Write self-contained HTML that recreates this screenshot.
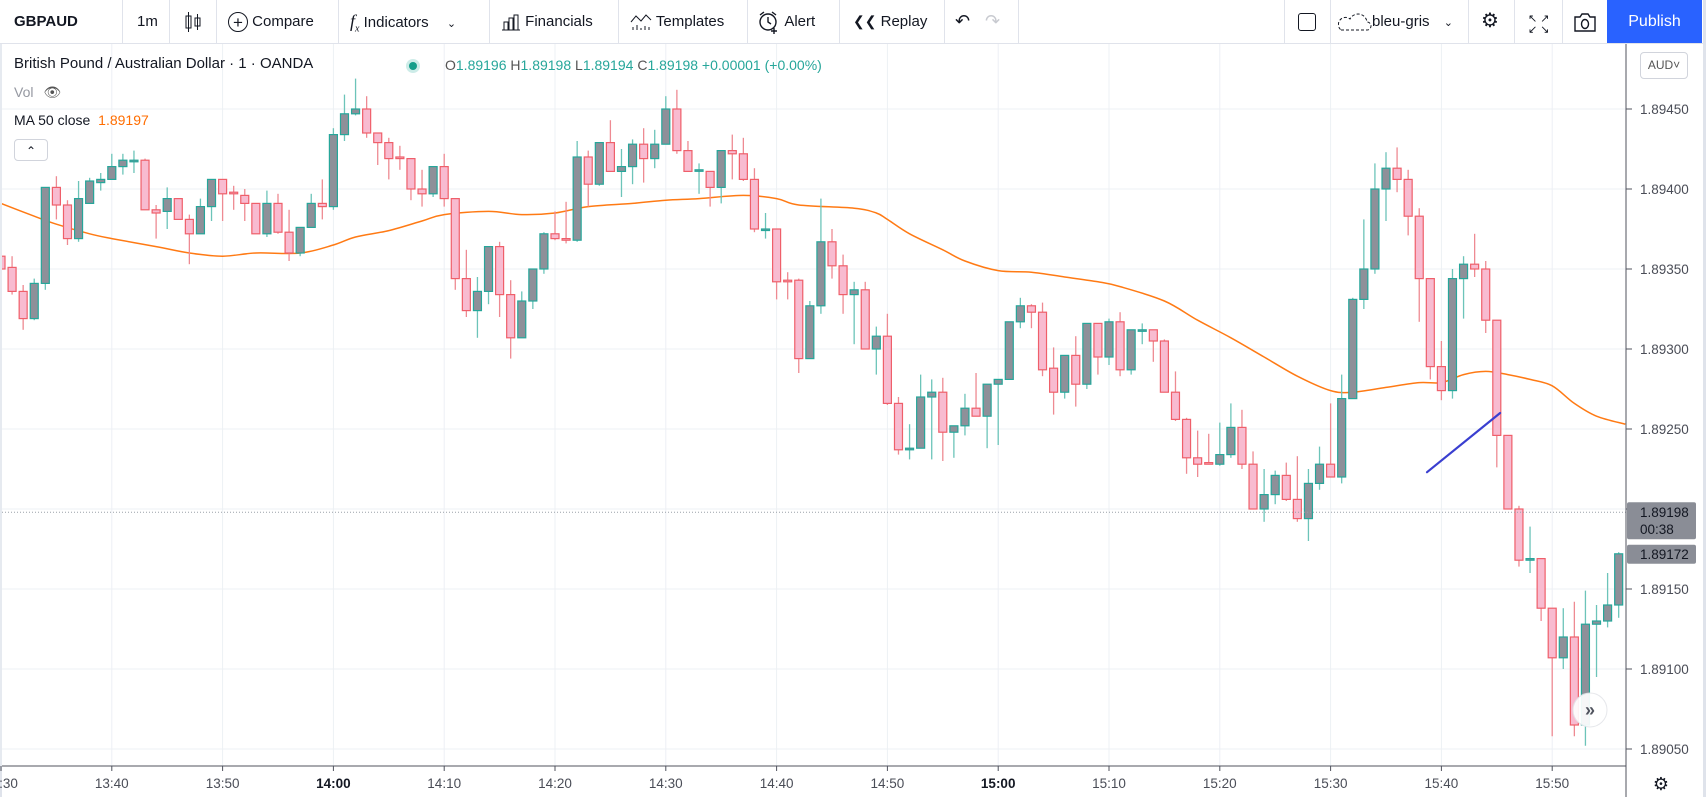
<!DOCTYPE html>
<html><head><meta charset="utf-8">
<style>
html,body{margin:0;padding:0;width:1706px;height:797px;overflow:hidden;background:#fff;font-family:"Liberation Sans",sans-serif;color:#131722}
#top{position:absolute;left:0;top:0;width:1706px;height:44px;border-bottom:1px solid #e0e3eb;box-sizing:border-box;background:#fff}
.tb{position:absolute;top:0;height:43px;line-height:43px;font-size:15px;color:#131722;white-space:nowrap}
.sep{position:absolute;top:0;width:1px;height:43px;background:#e0e3eb}
#pub{position:absolute;left:1607px;top:0;width:95px;height:43px;background:#2962ff;color:#fff;font-size:16px;line-height:43px;text-align:center}
svg text{font-family:"Liberation Sans",sans-serif}
</style></head><body>
<div id="top">
  <div class="tb" style="left:14px;font-weight:bold">GBPAUD</div>
  <div class="sep" style="left:122px"></div>
  <div class="tb" style="left:137px">1m</div>
  <div class="sep" style="left:169px"></div>
  <div class="tb" style="left:184px"><svg width="18" height="22" style="vertical-align:middle"><rect x="2" y="5" width="5" height="12" fill="none" stroke="#131722"/><line x1="4.5" y1="1" x2="4.5" y2="21" stroke="#131722"/><rect x="11" y="7" width="5" height="8" fill="none" stroke="#131722"/><line x1="13.5" y1="3" x2="13.5" y2="19" stroke="#131722"/></svg></div>
  <div class="sep" style="left:216px"></div>
  <div class="tb" style="left:228px"><span style="display:inline-block;width:20px;height:20px;border:1.5px solid #131722;border-radius:50%;text-align:center;line-height:19px;vertical-align:middle;box-sizing:border-box;font-size:17px">+</span> Compare</div>
  <div class="sep" style="left:338px"></div>
  <div class="tb" style="left:350px"><i style="font-family:'Liberation Serif',serif;font-size:18px">f<sub style="font-size:10px">x</sub></i> Indicators <span style="margin-left:14px;font-size:11px">&#8964;</span></div>
  <div class="sep" style="left:489px"></div>
  <div class="tb" style="left:501px"><svg width="20" height="18" style="vertical-align:middle"><path d="M1 17h18M3 17V9h4v8M8 17V5h4v12M13 17V2h4v15" fill="none" stroke="#131722"/></svg> Financials</div>
  <div class="sep" style="left:618px"></div>
  <div class="tb" style="left:630px"><svg width="22" height="18" style="vertical-align:middle"><path d="M1 9l5-6 5 5 5-6 5 5M3 17v-3M7 17v-5M11 17v-2M15 17v-4M19 17v-3" fill="none" stroke="#131722"/></svg> Templates</div>
  <div class="sep" style="left:747px"></div>
  <div class="tb" style="left:757px"><svg width="24" height="24" style="vertical-align:middle"><circle cx="11" cy="12" r="8" fill="none" stroke="#131722" stroke-width="1.4"/><path d="M11 7v5l3 2M3 5l4-3M19 5l-4-3M17 18v6M14 21h6" fill="none" stroke="#131722" stroke-width="1.4"/></svg> Alert</div>
  <div class="sep" style="left:839px"></div>
  <div class="tb" style="left:853px"><span style="font-size:14px">&#10094;&#10094;</span> Replay</div>
  <div class="sep" style="left:944px"></div>
  <div class="tb" style="left:955px;font-size:18px">&#8630;</div>
  <div class="tb" style="left:985px;font-size:18px;color:#c8cad0">&#8631;</div>
  <div class="sep" style="left:1018px"></div>
  <div class="sep" style="left:1284px"></div>
  <div class="tb" style="left:1298px"><span style="display:inline-block;width:18px;height:18px;border:1.5px solid #131722;border-radius:3px;vertical-align:middle;box-sizing:border-box"></span></div>
  <div class="sep" style="left:1330px"></div>
  <div class="tb" style="left:1338px"><svg width="34" height="20" style="vertical-align:middle"><path d="M3 18h26a4 4 0 0 0 0-8 9 9 0 0 0-17-3 6 6 0 0 0-9 11z" fill="none" stroke="#131722" stroke-dasharray="3 2"/></svg>bleu-gris <span style="margin-left:10px;font-size:11px">&#8964;</span></div>
  <div class="sep" style="left:1468px"></div>
  <div class="tb" style="left:1481px;font-size:20px">&#9881;</div>
  <div class="sep" style="left:1514px"></div>
  <div class="tb" style="left:1528px;font-size:11px;line-height:11px;top:14px">&#8598; &#8599;<br>&#8601; &#8600;</div>
  <div class="sep" style="left:1562px"></div>
  <div class="tb" style="left:1573px"><svg width="24" height="20" style="vertical-align:middle"><path d="M2 5h5l2-3h6l2 3h5v14H2z" fill="none" stroke="#131722" stroke-width="1.4"/><ellipse cx="12" cy="12" rx="3.5" ry="4.5" fill="none" stroke="#131722" stroke-width="1.4"/></svg></div>
  <div id="pub">Publish</div>
</div>
<div style="position:absolute;left:1703px;top:0;width:3px;height:797px;background:#dfe3eb"></div>
<div style="position:absolute;left:0;top:44px;width:2px;height:753px;background:#dfe3eb"></div>

<svg id="chart" width="1706" height="797" style="position:absolute;left:0;top:0"></svg>

<div style="position:absolute;left:14px;top:55px;font-size:15px;color:#131722;white-space:nowrap">British Pound / Australian Dollar · 1 · OANDA</div>
<div style="position:absolute;left:406px;top:59px;width:14px;height:14px;border-radius:50%;background:#cdece8"><div style="margin:3px;width:8px;height:8px;border-radius:50%;background:#159e8a"></div></div>
<div style="position:absolute;left:445px;top:57px;font-size:14px;color:#26a69a;white-space:nowrap"><span style="color:#555">O</span>1.89196 <span style="color:#555">H</span>1.89198 <span style="color:#555">L</span>1.89194 <span style="color:#555">C</span>1.89198 +0.00001 (+0.00%)</div>
<div style="position:absolute;left:14px;top:84px;font-size:14px;color:#9598a1">Vol <span style="margin-left:6px;color:#555">&#128065;&#xFE0E;</span></div>
<div style="position:absolute;left:14px;top:112px;font-size:14px;color:#131722;white-space:nowrap">MA 50 close <span style="color:#ff6d00;margin-left:4px">1.89197</span></div>
<div style="position:absolute;left:14px;top:139px;width:34px;height:22px;border:1px solid #d1d4dc;border-radius:4px;box-sizing:border-box;text-align:center;font-size:12px;line-height:22px;background:#fff">&#8963;</div>
<div style="position:absolute;left:1640px;top:52px;width:48px;height:27px;border:1px solid #d1d4dc;border-radius:4px;box-sizing:border-box;font-size:12px;line-height:25px;text-align:center;color:#555">AUD&#709;</div>

<script>
const opens=[1.89358,1.89351,1.89336,1.89319,1.89341,1.89401,1.89390,1.89369,1.89391,1.89404,1.89406,1.89414,1.89417,1.89418,1.89387,1.89386,1.89394,1.89381,1.89372,1.89389,1.89406,1.89398,1.89396,1.89391,1.89372,1.89391,1.89373,1.89360,1.89376,1.89391,1.89389,1.89434,1.89447,1.89450,1.89435,1.89429,1.89420,1.89419,1.89400,1.89397,1.89414,1.89394,1.89344,1.89324,1.89336,1.89364,1.89334,1.89307,1.89330,1.89350,1.89372,1.89369,1.89368,1.89420,1.89403,1.89429,1.89411,1.89414,1.89428,1.89419,1.89428,1.89450,1.89424,1.89412,1.89411,1.89401,1.89424,1.89422,1.89406,1.89375,1.89375,1.89343,1.89343,1.89294,1.89327,1.89367,1.89352,1.89334,1.89337,1.89300,1.89308,1.89266,1.89237,1.89238,1.89270,1.89273,1.89248,1.89252,1.89263,1.89258,1.89278,1.89281,1.89317,1.89327,1.89323,1.89288,1.89273,1.89296,1.89278,1.89316,1.89295,1.89317,1.89287,1.89312,1.89312,1.89305,1.89273,1.89256,1.89232,1.89229,1.89228,1.89234,1.89251,1.89228,1.89200,1.89209,1.89221,1.89206,1.89194,1.89216,1.89228,1.89220,1.89269,1.89331,1.89350,1.89400,1.89413,1.89406,1.89383,1.89344,1.89289,1.89274,1.89344,1.89353,1.89350,1.89318,1.89246,1.89200,1.89168,1.89169,1.89138,1.89107,1.89120,1.89065,1.89128,1.89130,1.89140];
const highs=[1.89362,1.89358,1.89340,1.89344,1.89401,1.89408,1.89393,1.89405,1.89407,1.89410,1.89422,1.89422,1.89424,1.89419,1.89390,1.89401,1.89394,1.89384,1.89394,1.89406,1.89406,1.89402,1.89400,1.89391,1.89399,1.89397,1.89387,1.89376,1.89397,1.89406,1.89438,1.89459,1.89469,1.89458,1.89435,1.89432,1.89427,1.89419,1.89412,1.89414,1.89422,1.89394,1.89362,1.89345,1.89364,1.89367,1.89343,1.89336,1.89350,1.89373,1.89386,1.89392,1.89430,1.89424,1.89429,1.89443,1.89425,1.89431,1.89438,1.89437,1.89458,1.89462,1.89430,1.89416,1.89411,1.89424,1.89434,1.89432,1.89413,1.89385,1.89375,1.89348,1.89344,1.89330,1.89394,1.89375,1.89359,1.89342,1.89342,1.89314,1.89322,1.89270,1.89253,1.89284,1.89281,1.89282,1.89252,1.89272,1.89285,1.89278,1.89281,1.89317,1.89332,1.89328,1.89329,1.89301,1.89296,1.89308,1.89316,1.89316,1.89319,1.89323,1.89312,1.89316,1.89312,1.89306,1.89286,1.89257,1.89249,1.89247,1.89254,1.89266,1.89262,1.89236,1.89225,1.89224,1.89229,1.89233,1.89225,1.89239,1.89266,1.89284,1.89332,1.89381,1.89416,1.89423,1.89426,1.89412,1.89388,1.89344,1.89305,1.89350,1.89358,1.89372,1.89355,1.89318,1.89246,1.89202,1.89189,1.89169,1.89138,1.89138,1.89142,1.89149,1.89140,1.89160,1.89173];
const lows=[1.89345,1.89334,1.89312,1.89318,1.89337,1.89381,1.89365,1.89367,1.89391,1.89399,1.89406,1.89409,1.89410,1.89387,1.89369,1.89375,1.89381,1.89353,1.89372,1.89380,1.89380,1.89387,1.89380,1.89372,1.89370,1.89372,1.89355,1.89358,1.89376,1.89381,1.89387,1.89430,1.89446,1.89432,1.89415,1.89406,1.89412,1.89393,1.89389,1.89395,1.89389,1.89337,1.89320,1.89307,1.89328,1.89320,1.89294,1.89307,1.89325,1.89347,1.89368,1.89366,1.89367,1.89389,1.89402,1.89411,1.89395,1.89403,1.89404,1.89413,1.89428,1.89422,1.89411,1.89397,1.89389,1.89391,1.89406,1.89405,1.89373,1.89369,1.89331,1.89331,1.89285,1.89294,1.89322,1.89344,1.89322,1.89303,1.89300,1.89284,1.89265,1.89234,1.89231,1.89238,1.89231,1.89230,1.89232,1.89246,1.89258,1.89238,1.89240,1.89281,1.89313,1.89313,1.89283,1.89259,1.89269,1.89264,1.89275,1.89284,1.89290,1.89283,1.89284,1.89303,1.89292,1.89273,1.89255,1.89222,1.89220,1.89228,1.89227,1.89232,1.89225,1.89200,1.89192,1.89203,1.89205,1.89192,1.89180,1.89212,1.89220,1.89216,1.89269,1.89325,1.89347,1.89380,1.89398,1.89371,1.89317,1.89281,1.89268,1.89269,1.89319,1.89345,1.89310,1.89226,1.89200,1.89164,1.89160,1.89130,1.89058,1.89100,1.89058,1.89052,1.89095,1.89126,1.89132];
const closes=[1.89350,1.89336,1.89319,1.89341,1.89401,1.89390,1.89369,1.89394,1.89405,1.89406,1.89414,1.89418,1.89418,1.89387,1.89385,1.89394,1.89381,1.89372,1.89389,1.89406,1.89397,1.89397,1.89391,1.89372,1.89391,1.89373,1.89360,1.89376,1.89391,1.89389,1.89434,1.89447,1.89450,1.89435,1.89429,1.89419,1.89419,1.89400,1.89397,1.89414,1.89394,1.89344,1.89324,1.89336,1.89364,1.89334,1.89307,1.89330,1.89350,1.89372,1.89369,1.89368,1.89420,1.89403,1.89429,1.89411,1.89414,1.89428,1.89419,1.89428,1.89450,1.89424,1.89411,1.89412,1.89401,1.89424,1.89422,1.89406,1.89375,1.89375,1.89342,1.89342,1.89294,1.89327,1.89367,1.89352,1.89334,1.89337,1.89300,1.89308,1.89266,1.89237,1.89238,1.89270,1.89273,1.89248,1.89252,1.89263,1.89258,1.89278,1.89281,1.89317,1.89327,1.89323,1.89287,1.89273,1.89296,1.89278,1.89316,1.89295,1.89317,1.89287,1.89312,1.89312,1.89305,1.89273,1.89256,1.89232,1.89228,1.89228,1.89234,1.89251,1.89228,1.89200,1.89209,1.89221,1.89206,1.89194,1.89216,1.89228,1.89220,1.89269,1.89331,1.89350,1.89400,1.89413,1.89406,1.89383,1.89344,1.89289,1.89274,1.89344,1.89353,1.89350,1.89318,1.89246,1.89200,1.89168,1.89169,1.89138,1.89107,1.89120,1.89065,1.89128,1.89130,1.89140,1.89172];
const maTimes=[0,3,5,8,10,14,17,20,23,27,30,32,35,38,40,44,47,50,53,57,60,63,67,70,72,77,79,80,82,85,87,90,93,96,99,101,105,108,111,114,117,120,122,125,128,130,132,134,136,138,140,142,144,146.6];
const maValues=[1.89391,1.89383,1.89378,1.89372,1.89369,1.89364,1.89360,1.89358,1.89360,1.89360,1.89365,1.89370,1.89374,1.89380,1.89384,1.89386,1.89384,1.89385,1.89389,1.89391,1.89393,1.89394,1.89396,1.89394,1.89390,1.89388,1.89385,1.89381,1.89372,1.89362,1.89355,1.89349,1.89348,1.89345,1.89342,1.89339,1.89330,1.89318,1.89307,1.89295,1.89283,1.89274,1.89273,1.89276,1.89279,1.89279,1.89284,1.89286,1.89284,1.89281,1.89277,1.89266,1.89258,1.89253];
const priceTicks=[1.8945,1.894,1.8935,1.893,1.8925,1.892,1.8915,1.891,1.8905];
const priceTickLabels=["1.89450","1.89400","1.89350","1.89300","1.89250","1.89200","1.89150","1.89100","1.89050"];
const timeTicks=[0,10,20,30,40,50,60,70,80,90,100,110,120,130,140];
const timeTickLabels=["13:30","13:40","13:50","14:00","14:10","14:20","14:30","14:40","14:50","15:00","15:10","15:20","15:30","15:40","15:50"];
const trendLineT=[128.7,135.3];
const trendLineP=[1.89223,1.8926];
const lastPrice=1.89198, livePrice=1.89172;

const NS="http://www.w3.org/2000/svg";
const svg=document.getElementById('chart');
const X0=1, DX=11.08, PTOP=1.8945, YTOP=109, PXPER=80/0.0005;
function xOf(t){return X0+t*DX;}
function yOf(p){return YTOP+(PTOP-p)*PXPER;}
function mk(tag,attrs,parent){const e=document.createElementNS(NS,tag);for(const k in attrs)e.setAttribute(k,attrs[k]);(parent||svg).appendChild(e);return e;}

// clip
const defs=mk('defs',{});
const cp=mk('clipPath',{id:'pane'},defs);
mk('rect',{x:2,y:44,width:1624,height:722},cp);

// grid
const grid=mk('g',{});


priceTicks.forEach(p=>{mk('line',{x1:2,x2:1626,y1:yOf(p),y2:yOf(p),stroke:'#edf0f4','stroke-width':1},grid);});
timeTicks.forEach(t=>{mk('line',{x1:xOf(t),x2:xOf(t),y1:44,y2:766,stroke:'#edf0f4','stroke-width':1},grid);});

const pane=mk('g',{'clip-path':'url(#pane)'});
// MA line (smooth)
(function(){
  const pts=maTimes.map((t,i)=>[xOf(t),yOf(maValues[i])]);
  let d='M'+pts[0][0]+' '+pts[0][1];
  for(let i=0;i<pts.length-1;i++){
    const p0=pts[i-1]||pts[i],p1=pts[i],p2=pts[i+1],p3=pts[i+2]||p2;
    const c1=[p1[0]+(p2[0]-p0[0])/6,p1[1]+(p2[1]-p0[1])/6];
    const c2=[p2[0]-(p3[0]-p1[0])/6,p2[1]-(p3[1]-p1[1])/6];
    d+=` C${c1[0]} ${c1[1]} ${c2[0]} ${c2[1]} ${p2[0]} ${p2[1]}`;
  }
  const ma=mk('path',{d:d,fill:'none',stroke:'#ff7a14','stroke-width':1.5},pane);
  
  
})();

// candles
for(let i=0;i<opens.length;i++){
  const o=opens[i],h=highs[i],l=lows[i],c=closes[i];
  const bull=c>=o;
  const x=xOf(i);
  const g=mk('g',{},pane);
  
  
  mk('line',{x1:x,x2:x,y1:yOf(h),y2:yOf(l),stroke:bull?'#6cc4b9':'#ee8a92','stroke-width':1.3},g);
  const top=yOf(Math.max(o,c)),bot=yOf(Math.min(o,c));
  const hgt=Math.max(bot-top,1.5);
  mk('rect',{x:x-4,y:top,width:8,height:hgt,fill:bull?'#8e9099':'#f8bbd0',stroke:bull?'#26a69a':'#ef5f6a','stroke-width':1.2},g);
}

// trend line
const tl=mk('line',{x1:xOf(trendLineT[0]),y1:yOf(trendLineP[0]),x2:xOf(trendLineT[1]),y2:yOf(trendLineP[1]),stroke:'#3a3fd0','stroke-width':2.2,'stroke-linecap':'round'},pane);



// last price dotted line
const dl=mk('line',{x1:2,x2:1626,y1:yOf(lastPrice),y2:yOf(lastPrice),stroke:'#9aa0a8','stroke-width':1,'stroke-dasharray':'1 2'});



// axes
const ax=mk('g',{});


mk('line',{x1:1626,x2:1626,y1:44,y2:797,stroke:'#50535e','stroke-width':1},ax);
priceTicks.forEach((p,i)=>{
  mk('line',{x1:1626,x2:1632,y1:yOf(p),y2:yOf(p),stroke:'#50535e'},ax);
  const t=mk('text',{x:1640,y:yOf(p)+5,'font-size':13.5,fill:'#4a4d57'},ax);
  t.textContent=priceTickLabels[i];
});
const xa=mk('g',{});


mk('line',{x1:2,x2:1626,y1:766,y2:766,stroke:'#50535e','stroke-width':1},xa);
timeTicks.forEach((t,i)=>{
  mk('line',{x1:xOf(t),x2:xOf(t),y1:766,y2:771,stroke:'#50535e'},xa);
  const bold=timeTickLabels[i].endsWith(':00');
  const tx=mk('text',{x:xOf(t),y:788,'font-size':13.5,fill:bold?'#131722':'#4a4d57','font-weight':bold?'bold':'normal','text-anchor':'middle'},xa);
  tx.textContent=timeTickLabels[i];
});

// price tags
const tag1=mk('g',{});


mk('rect',{x:1627,y:yOf(lastPrice)-10,width:69,height:37,rx:2,fill:'#8a8d96'},tag1);
const t1=mk('text',{x:1640,y:yOf(lastPrice)+5,'font-size':13.5,fill:'#131722'},tag1);t1.textContent=lastPrice.toFixed(5);
const t2=mk('text',{x:1640,y:yOf(lastPrice)+22,'font-size':13.5,fill:'#131722'},tag1);t2.textContent='00:38';
const tag2=mk('g',{});


mk('rect',{x:1627,y:yOf(livePrice)-9,width:69,height:19,rx:2,fill:'#8a8d96'},tag2);
const t3=mk('text',{x:1640,y:yOf(livePrice)+5,'font-size':13.5,fill:'#131722'},tag2);t3.textContent=livePrice.toFixed(5);

// scroll button
const sb=mk('g',{});


mk('circle',{cx:1590,cy:710,r:17,fill:'#fff',opacity:0.92,stroke:'#e4e6ea'},sb);
const st=mk('text',{x:1590,y:716,'font-size':18,'font-weight':'bold',fill:'#50535e','text-anchor':'middle'},sb);st.textContent='»';
// gear
const gr=mk('text',{x:1661,y:790,'font-size':18,fill:'#131722','text-anchor':'middle'});


gr.textContent='⚙';
</script>
</body></html>
